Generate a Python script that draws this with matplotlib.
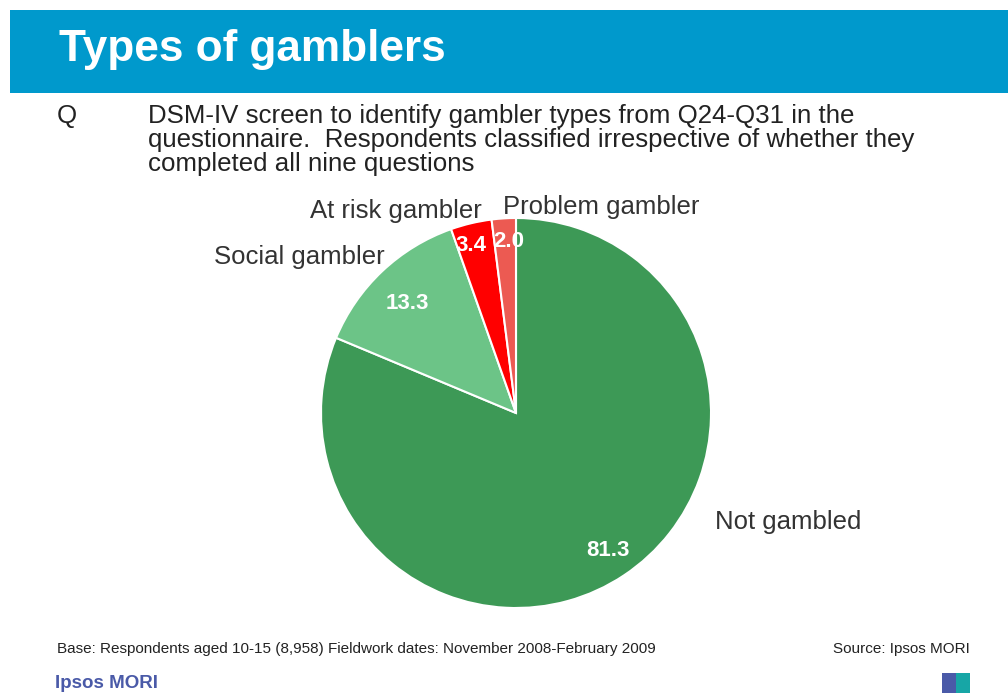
import matplotlib
matplotlib.use("Agg")
import matplotlib.pyplot as plt
from matplotlib.patches import Rectangle
import numpy as np

categories = ["Not gambled", "Social gambler", "At risk gambler", "Problem gambler"]
values = [81.3, 13.3, 3.4, 2.0]
colors = ["#3d9956", "#6cc487", "#ff0000", "#ec5a52"]

W, H = 1008, 693
fig = plt.figure(figsize=(W / 100, H / 100), dpi=100)
fig.patch.set_facecolor("white")

def px(x, y):
    return x / W, 1 - y / H

# title band
fig.patches.append(Rectangle((10 / W, 1 - 93 / H), (W - 10) / W, 83 / H,
                             transform=fig.transFigure, facecolor="#0099cc",
                             edgecolor="none", zorder=0))
fig.text(*px(59, 50), "Types of gamblers", color="white", fontsize=31.8,
         fontweight="bold", family="Liberation Sans", va="center", ha="left")

# question text
qfont = dict(fontsize=18.6, family="Liberation Sans", color="#222222", va="center")
fig.text(*px(57, 116), "Q", **qfont)
fig.text(*px(148, 116), "DSM-IV screen to identify gambler types from Q24-Q31 in the", **qfont)
fig.text(*px(148, 140), "questionnaire.  Respondents classified irrespective of whether they", **qfont)
fig.text(*px(148, 164), "completed all nine questions", **qfont)

# pie
cx, cy, r = 516, 413, 195
ax = fig.add_axes([(cx - r) / W, (H - cy - r) / H, 2 * r / W, 2 * r / H])
wedges, texts, autotexts = ax.pie(
    values, colors=colors, startangle=90, counterclock=False,
    autopct=lambda p: f"{p:.1f}", pctdistance=0.85,
    wedgeprops=dict(edgecolor="white", linewidth=1.5),
    textprops=dict(color="white", fontsize=16, fontweight="bold",
                   family="Liberation Sans"))
ax.set_xlim(-1, 1)
ax.set_ylim(-1, 1)
ax.set_aspect("equal")
ax.axis("off")

# value label nudges (radial distance / angle) so the small slices stay readable
dists = [0.85, 0.79, 0.89, 0.88]
angles_off = [0, 1.3, 1.7, -1.3]
for w, t, d, da in zip(wedges, autotexts, dists, angles_off):
    ang = np.deg2rad((w.theta1 + w.theta2) / 2 + da)
    t.set_position((d * np.cos(ang), d * np.sin(ang)))
    t.set_ha("center")
    t.set_va("center")

# category labels
lfont = dict(fontsize=18.5, family="Liberation Sans", color="#333333", va="center")
label_pos = [(715, 522, "left"), (385, 257, "right"), (482, 211, "right"), (503, 207, "left")]
for name, (x, y, ha) in zip(categories, label_pos):
    fig.text(*px(x, y), name, ha=ha, **lfont)

# footer
ffont = dict(fontsize=11, family="Liberation Sans", color="#222222", va="center")
fig.text(*px(57, 649), "Base: Respondents aged 10-15 (8,958) Fieldwork dates: November 2008-February 2009",
         ha="left", **ffont)
fig.text(*px(970, 649), "Source: Ipsos MORI", ha="right", **ffont)
fig.text(*px(55, 683), "Ipsos MORI", ha="left", va="center", fontsize=13.5,
         fontweight="bold", family="Liberation Sans", color="#4a5aa8")

# small logo block
fig.patches.append(Rectangle((942 / W, 0), 14 / W, 20 / H, transform=fig.transFigure,
                             facecolor="#4a5aa8", edgecolor="none"))
fig.patches.append(Rectangle((956 / W, 0), 14 / W, 20 / H, transform=fig.transFigure,
                             facecolor="#17a6a6", edgecolor="none"))

fig.savefig("out.png", dpi=100)
